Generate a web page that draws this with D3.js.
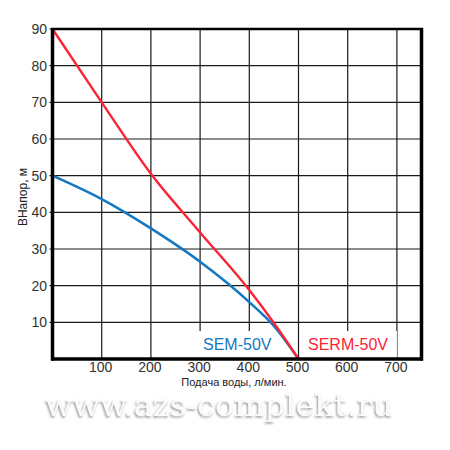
<!DOCTYPE html>
<html>
<head>
<meta charset="utf-8">
<script src="https://cdn.jsdelivr.net/npm/d3@7"></script>
<style>
  body { margin: 0; background: #fff; }
  text { font-family: "Liberation Sans", Arial, sans-serif; }
  text.wm { font-family: "DejaVu Serif", "Liberation Serif", serif; }
</style>
</head>
<body>
<svg width="450" height="450"></svg>
<script>
// flow, l/min
var flow = [0, 100, 200, 300, 400, 450, 500]
// head, m
var sermHead = [90, 70, 50.5, 34.5, 18.8, 9.8, 0]
var semHead = [50, 43.6, 35.6, 26.5, 15.5, 9, 0]
var xTicks = [100, 200, 300, 400, 500, 600, 700]
var yTicks = [10, 20, 30, 40, 50, 60, 70, 80, 90]
var seriesNames = ["SEM-50V", "SERM-50V"]

function main(){
    var svg = d3.select("svg")
    var left = 52.5, right = 421.5, top = 29, bottom = 359

    var xScale = d3.scaleLinear().domain([0, 750]).range([left, right]),
        yScale = d3.scaleLinear().domain([0, 90]).range([bottom, top])

    var defs = svg.append("defs")
    var f = defs.append("filter").attr("id", "wm").attr("x", "-5%").attr("y", "-20%")
        .attr("width", "110%").attr("height", "150%")
    f.append("feDropShadow").attr("dx", -1).attr("dy", 1.5).attr("stdDeviation", 1.2)
        .attr("flood-color", "#888").attr("flood-opacity", 0.9)

    // grid
    var g = svg.append("g")
    g.selectAll(".vgrid").data(xTicks).enter().append("line")
        .attr("class", "vgrid")
        .attr("x1", function(d){ return xScale(d) }).attr("x2", function(d){ return xScale(d) })
        .attr("y1", top).attr("y2", bottom)
        .attr("stroke", "#1a1a1a").attr("stroke-width", 1.2)
    g.selectAll(".hgrid").data(yTicks).enter().append("line")
        .attr("class", "hgrid")
        .attr("x1", left - 3).attr("x2", right)
        .attr("y1", function(d){ return yScale(d) }).attr("y2", function(d){ return yScale(d) })
        .attr("stroke", "#1a1a1a").attr("stroke-width", 1.2)

    // label boxes hide the grid under the names
    g.append("rect").attr("x", xScale(295)).attr("y", 331).attr("width", xScale(450) - xScale(295)).attr("height", bottom - 331)
        .attr("fill", "#fff")
    g.append("rect").attr("x", xScale(515)).attr("y", 331).attr("width", xScale(700) - xScale(515)).attr("height", bottom - 331)
        .attr("fill", "#fff")

    // axis labels
    g.selectAll(".ylab").data(yTicks).enter().append("text")
        .attr("x", 47).attr("y", function(d){ return yScale(d) + 5 })
        .attr("text-anchor", "end").attr("font-size", 14).attr("fill", "#333")
        .text(function(d){ return d })
    g.selectAll(".xlab").data(xTicks).enter().append("text")
        .attr("x", function(d){ return xScale(d) - 1 }).attr("y", 372)
        .attr("text-anchor", "middle").attr("font-size", 14).attr("fill", "#333")
        .text(function(d){ return d })

    svg.append("text").attr("x", 234).attr("y", 386).attr("text-anchor", "middle")
        .attr("font-size", 11).attr("fill", "#222").text("Подача воды, л/мин.")
    svg.append("text").attr("transform", "translate(27,197) rotate(-90)")
        .attr("text-anchor", "middle").attr("font-size", 12).attr("fill", "#222").text("ВНапор, м")

    // curves
    var line = d3.line().curve(d3.curveMonotoneX)
        .x(function(d){ return xScale(d[0]) }).y(function(d){ return yScale(d[1]) })
    svg.append("path").datum(d3.zip(flow, semHead)).attr("d", line)
        .attr("fill", "none").attr("stroke", "#1478c2").attr("stroke-width", 2.6)
    svg.append("path").datum(d3.zip(flow, sermHead)).attr("d", line)
        .attr("fill", "none").attr("stroke", "#fb2335").attr("stroke-width", 2.4)

    svg.append("text").attr("x", 203).attr("y", 350).attr("font-size", 16)
        .attr("fill", "#1478c2").text(seriesNames[0])
    svg.append("text").attr("x", 308).attr("y", 350).attr("font-size", 16)
        .attr("fill", "#fb2335").text(seriesNames[1])

    // frame
    svg.append("line").attr("x1", left - 1.5).attr("x2", right + 1.5).attr("y1", top).attr("y2", top)
        .attr("stroke", "#000").attr("stroke-width", 2.5)
    svg.append("line").attr("x1", left - 1.5).attr("x2", right + 1.5).attr("y1", bottom).attr("y2", bottom)
        .attr("stroke", "#000").attr("stroke-width", 3.5)
    svg.append("line").attr("x1", left).attr("x2", left).attr("y1", top - 1).attr("y2", bottom + 1.5)
        .attr("stroke", "#000").attr("stroke-width", 3.5)
    svg.append("line").attr("x1", right).attr("x2", right).attr("y1", top - 1).attr("y2", bottom + 1.5)
        .attr("stroke", "#000").attr("stroke-width", 3.5)

    // watermark
    svg.append("text").attr("class", "wm").attr("x", 45).attr("y", 416)
        .attr("font-size", 30).attr("textLength", 348).attr("lengthAdjust", "spacingAndGlyphs")
        .attr("fill", "#fbfbfb").attr("filter", "url(#wm)")
        .text("www.azs-complekt.ru")
}
main()
</script>
</body>
</html>
